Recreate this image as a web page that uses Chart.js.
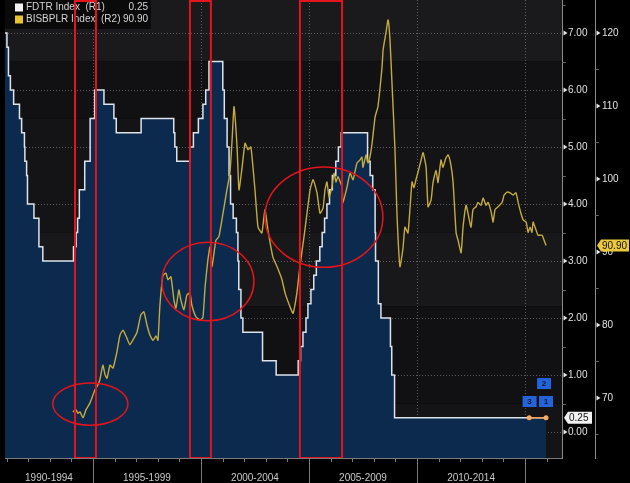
<!DOCTYPE html>
<html>
<head>
<meta charset="utf-8">
<script src="https://cdn.jsdelivr.net/npm/chart.js@4"></script>
<style>
  html, body { margin: 0; padding: 0; background: #000; }
  #wrap { width: 630px; height: 483px; }
</style>
</head>
<body>
<div id="wrap"><canvas id="chart" width="630" height="483"></canvas></div>
<script>
// Fed funds target (R1), step changes: year fraction -> rate
const fdtrDates = [1990.93, 1991.02, 1991.09, 1991.18, 1991.33, 1991.60, 1991.70, 1991.83, 1991.85, 1991.93,
  1991.97, 1992.27, 1992.50, 1992.68, 1994.10, 1994.22, 1994.29, 1994.37, 1994.62, 1994.87,
  1995.08, 1995.51, 1995.97, 1996.08, 1997.23, 1998.74, 1998.79, 1998.88, 1999.49, 1999.65,
  1999.88, 2000.09, 2000.22, 2000.37, 2001.01, 2001.08, 2001.21, 2001.30, 2001.37, 2001.49,
  2001.64, 2001.71, 2001.75, 2001.85, 2001.94, 2002.85, 2003.48, 2004.50, 2004.61, 2004.72,
  2004.86, 2004.95, 2005.09, 2005.22, 2005.34, 2005.50, 2005.61, 2005.72, 2005.83, 2005.95,
  2006.08, 2006.24, 2006.36, 2006.49, 2007.71, 2007.83, 2007.95, 2008.06, 2008.08, 2008.21,
  2008.33, 2008.77, 2008.83, 2008.96, 2015.97];
const fdtrValues = [7.00, 6.75, 6.25, 6.00, 5.75, 5.50, 5.25, 5.00, 4.75, 4.50,
  4.00, 3.75, 3.25, 3.00, 3.25, 3.50, 3.75, 4.25, 4.75, 5.50,
  6.00, 5.75, 5.50, 5.25, 5.50, 5.25, 5.00, 4.75, 5.00, 5.25,
  5.50, 5.75, 6.00, 6.50, 6.00, 5.50, 5.00, 4.50, 4.00, 3.75,
  3.50, 3.00, 2.50, 2.00, 1.75, 1.25, 1.00, 1.25, 1.50, 1.75,
  2.00, 2.25, 2.50, 2.75, 3.00, 3.25, 3.50, 3.75, 4.00, 4.25,
  4.50, 4.75, 5.00, 5.25, 4.75, 4.50, 4.25, 3.50, 3.00, 2.25,
  2.00, 1.50, 1.00, 0.25, 0.25];

// BISBPLR index (R2)
const bisDates = [1994.07, 1994.21, 1994.31, 1994.40, 1994.54, 1994.68, 1994.86, 1995.09, 1995.23, 1995.32,
  1995.46, 1995.56, 1995.65, 1995.79, 1995.93, 1996.11, 1996.25, 1996.39, 1996.57, 1996.71,
  1996.90, 1997.04, 1997.22, 1997.36, 1997.50, 1997.64, 1997.78, 1997.92, 1998.01, 1998.10,
  1998.24, 1998.38, 1998.47, 1998.61, 1998.75, 1998.84, 1998.98, 1999.07, 1999.21, 1999.35,
  1999.49, 1999.58, 1999.77, 1999.95, 2000.09, 2000.19, 2000.32, 2000.42, 2000.51, 2000.69,
  2000.83, 2000.97, 2001.20, 2001.34, 2001.44, 2001.53, 2001.67, 2001.76, 2001.90, 2002.04,
  2002.18, 2002.31, 2002.50, 2002.64, 2002.82, 2002.96, 2003.10, 2003.33, 2003.52, 2003.75,
  2003.89, 2004.12, 2004.26, 2004.44, 2004.58, 2004.81, 2005.05, 2005.19, 2005.37, 2005.51,
  2005.65, 2005.74, 2005.83, 2005.93, 2006.06, 2006.16, 2006.25, 2006.34, 2006.53, 2006.57,
  2006.76, 2006.90, 2007.04, 2007.22, 2007.36, 2007.45, 2007.50, 2007.64, 2007.73, 2007.82,
  2007.92, 2008.06, 2008.19, 2008.38, 2008.43, 2008.56, 2008.66, 2008.75, 2008.84, 2008.98,
  2009.07, 2009.21, 2009.35, 2009.44, 2009.58, 2009.68, 2009.77, 2009.86, 2009.95, 2010.05,
  2010.19, 2010.28, 2010.42, 2010.51, 2010.65, 2010.74, 2010.88, 2010.97, 2011.11, 2011.20,
  2011.34, 2011.44, 2011.57, 2011.67, 2011.81, 2011.90, 2012.04, 2012.13, 2012.27, 2012.36,
  2012.50, 2012.59, 2012.73, 2012.82, 2012.96, 2013.06, 2013.19, 2013.29, 2013.43, 2013.52,
  2013.61, 2013.75, 2013.94, 2014.03, 2014.17, 2014.31, 2014.44, 2014.58, 2014.68, 2014.81,
  2014.91, 2015.05, 2015.14, 2015.23, 2015.32, 2015.37, 2015.51, 2015.60, 2015.79, 2015.88,
  2015.97];
const bisValues = [68.1, 68.4, 67.9, 68.1, 67.3, 68.4, 69.3, 71.1, 71.8, 72.5,
  74.5, 73.2, 72.7, 74.5, 74.1, 76.3, 78.6, 79.3, 78.2, 77.3,
  78.2, 79.0, 81.4, 81.8, 80.0, 78.6, 77.9, 78.5, 77.9, 82.7,
  86.8, 87.1, 86.2, 86.6, 83.4, 82.3, 84.8, 83.4, 82.1, 84.1,
  84.4, 82.7, 81.1, 80.7, 81.0, 85.2, 88.9, 90.7, 88.0, 91.6,
  92.1, 94.4, 98.5, 100.8, 105.3, 109.9, 104.4, 98.5, 101.5, 104.9,
  104.0, 104.4, 98.5, 93.4, 92.6, 95.8, 93.0, 89.3, 88.0, 86.2,
  84.4, 82.5, 81.6, 84.4, 88.0, 93.0, 98.5, 99.9, 98.1, 95.3,
  96.0, 98.5, 99.6, 97.5, 98.9, 100.8, 99.6, 100.3, 98.9, 96.7,
  98.9, 100.8, 99.9, 102.2, 102.6, 103.0, 101.6, 103.3, 102.2, 103.0,
  104.9, 108.5, 109.9, 115.3, 117.7, 120.0, 121.8, 119.0, 113.2, 104.0,
  95.3, 88.0, 90.5, 93.4, 92.6, 96.2, 99.6, 98.8, 99.9, 101.0,
  102.6, 103.6, 101.6, 96.2, 97.1, 99.5, 101.2, 99.5, 102.6, 101.6,
  102.9, 103.3, 101.9, 99.5, 92.6, 91.6, 89.9, 93.4, 96.4, 95.3,
  93.4, 95.8, 96.2, 96.8, 96.4, 97.4, 96.4, 96.8, 95.5, 94.1,
  95.8, 96.2, 96.8, 97.8, 98.2, 98.1, 97.8, 98.1, 96.8, 95.3,
  94.4, 94.1, 92.7, 93.4, 92.7, 94.1, 93.0, 92.3, 92.3, 91.6,
  90.9];

// axes
const xMin = 1990.93, xMax = 2016.71;
const r1Min = -0.456, r1Max = 7.579;
const r2Min = 61.78, r2Max = 124.52;
const r1Ticks = [0, 1, 2, 3, 4, 5, 6, 7];
const r2Ticks = [70, 80, 90, 100, 110, 120];
const periodStarts = [1990, 1995, 2000, 2005, 2010];
const periodLabels = ['1990-1994', '1995-1999', '2000-2004', '2005-2009', '2010-2014'];
const periodBreaks = [1995, 2000, 2005, 2010, 2015];

// legend and last-value tags
const legendNames = ['FDTR Index  (R1)', 'BISBPLR Index  (R2)'];
const legendValues = ['0.25', '90.90'];
const lastFdtr = 0.25, lastBis = 90.90;

// hand-drawn annotations (data units, R1 for y)
const highlightSpans = [[1994.17, 1995.14], [1999.49, 2000.46], [2004.58, 2006.53]];
const circleCenters = [[1994.88, 0.49], [2000.32, 2.64], [2005.69, 3.77]];
const circleRadii = [[1.74, 0.37], [2.13, 0.69], [2.73, 0.88]];

// event markers at the end
const eventLabels = ['2', '3', '1'];
const eventDates = [2015.88, 2015.21, 2015.97];
const eventLevels = [0.85, 0.535, 0.535];
const eventLineDates = [2015.19, 2015.97];

// background bands on R1 (from, to, colour)
const bands = [[6.5, 7.6, '#1a1a1d'], [5.5, 6.5, '#111114'], [3.5, 5.5, '#141417'], [2.2, 3.5, '#18181b'], [0.5, 2.2, '#111114'], [-0.5, 0.5, '#141417']];

const FONT = 'Liberation Sans, Arial, sans-serif';

const decorPlugin = {
    id: 'decor',
    beforeDraw(chart) {
        const { ctx, chartArea: a, scales } = chart;
        ctx.save();
        ctx.fillStyle = '#000';
        ctx.fillRect(0, 0, chart.width, chart.height);
        bands.forEach(([from, to, color]) => {
            const y1 = scales.y1.getPixelForValue(to);
            const y2 = scales.y1.getPixelForValue(from);
            ctx.fillStyle = color;
            const top = Math.max(y1, a.top), bot = Math.min(y2, a.bottom);
            ctx.fillRect(a.left, top, a.right - a.left, bot - top);
        });
        ctx.restore();
    },
    beforeDatasetsDraw(chart) {
        const { ctx, chartArea: a, scales } = chart;
        ctx.save();
        ctx.strokeStyle = 'rgba(200,200,200,0.4)';
        ctx.lineWidth = 1;
        ctx.setLineDash([1, 2]);
        periodBreaks.forEach((yr) => {
            const x = Math.round(scales.x.getPixelForValue(yr)) + 0.5;
            ctx.beginPath();
            ctx.moveTo(x, a.top);
            ctx.lineTo(x, a.bottom);
            ctx.stroke();
        });
        ctx.restore();
    },
    afterDatasetsDraw(chart) {
        const { ctx, chartArea: a, scales } = chart;
        const x = scales.x, y = scales.y1;
        ctx.save();

        // legend box
        ctx.fillStyle = '#0a0a0a';
        ctx.fillRect(a.left, 0, 146, 29);
        ctx.font = '10px ' + FONT;
        ctx.textBaseline = 'middle';
        const swatches = ['#f2f2f2', '#e6c531'];
        legendNames.forEach((name, i) => {
            const cy = 7.5 + i * 12;
            ctx.fillStyle = swatches[i];
            ctx.fillRect(a.left + 10, cy - 4, 8, 8);
            ctx.fillStyle = '#d4d4d4';
            ctx.textAlign = 'left';
            ctx.fillText(name, a.left + 21, cy);
            ctx.textAlign = 'right';
            ctx.fillText(legendValues[i], a.left + 143, cy);
        });

        // red highlight rectangles
        ctx.strokeStyle = '#e3141c';
        ctx.lineWidth = 2;
        highlightSpans.forEach(([s, e]) => {
            const l = x.getPixelForValue(s), r = x.getPixelForValue(e);
            ctx.strokeRect(l, a.top + 1, r - l, a.bottom - a.top - 1);
        });

        // red ellipses
        ctx.lineWidth = 1.5;
        circleCenters.forEach(([cx, cy], i) => {
            const px = x.getPixelForValue(cx), py = y.getPixelForValue(cy);
            const rx = x.getPixelForValue(cx + circleRadii[i][0]) - px;
            const ry = py - y.getPixelForValue(cy + circleRadii[i][1]);
            ctx.beginPath();
            ctx.ellipse(px, py, rx, ry, 0, 0, Math.PI * 2);
            ctx.stroke();
        });

        // event boxes
        ctx.font = 'bold 8px ' + FONT;
        ctx.textAlign = 'center';
        eventLabels.forEach((lab, i) => {
            const px = x.getPixelForValue(eventDates[i]), py = y.getPixelForValue(eventLevels[i]);
            ctx.fillStyle = '#2563d8';
            ctx.fillRect(px - 7, py - 5.5, 14, 11);
            ctx.fillStyle = '#0b1a3a';
            ctx.fillText(lab, px, py + 0.5);
        });
        ctx.restore();
    },
    afterDraw(chart) {
        const { ctx, chartArea: a, scales } = chart;
        ctx.save();
        ctx.strokeStyle = '#7a7a7a';
        ctx.lineWidth = 1;

        // x axis line, year ticks and period separators
        ctx.beginPath();
        ctx.moveTo(a.left, a.bottom + 0.5);
        ctx.lineTo(a.right, a.bottom + 0.5);
        for (let yr = Math.ceil(xMin); yr <= xMax; yr++) {
            const px = Math.round(scales.x.getPixelForValue(yr)) + 0.5;
            const long = periodBreaks.includes(yr);
            ctx.moveTo(px, a.bottom);
            ctx.lineTo(px, long ? chart.height : a.bottom + 4);
        }
        ctx.stroke();

        // minor ticks and markers on both value axes
        [['y1', 0.5, r1Ticks], ['y2', 5, r2Ticks]].forEach(([id, half, major]) => {
            const s = scales[id];
            const ax = Math.round(s.left) + 0.5;
            ctx.strokeStyle = '#6a6a6a';
            ctx.beginPath();
            major.forEach((v) => {
                [v - half, v + half].forEach((m) => {
                    if (m < s.min || m > s.max) return;
                    const py = Math.round(s.getPixelForValue(m)) + 0.5;
                    ctx.moveTo(ax, py);
                    ctx.lineTo(ax + 3, py);
                });
            });
            ctx.stroke();
            ctx.fillStyle = '#e8e8e8';
            major.forEach((v) => {
                const py = s.getPixelForValue(v);
                ctx.beginPath();
                ctx.moveTo(ax + 1, py - 2.5);
                ctx.lineTo(ax + 1, py + 2.5);
                ctx.lineTo(ax + 5, py);
                ctx.closePath();
                ctx.fill();
            });
        });

        // last value tags
        const tag = (s, value, text, bg, w) => {
            const py = s.getPixelForValue(value);
            const l = s.left + 2;
            ctx.fillStyle = bg;
            ctx.beginPath();
            ctx.moveTo(l, py);
            ctx.lineTo(l + 4, py - 6);
            ctx.lineTo(l + w, py - 6);
            ctx.lineTo(l + w, py + 6);
            ctx.lineTo(l + 4, py + 6);
            ctx.closePath();
            ctx.fill();
            ctx.fillStyle = '#111';
            ctx.font = '10px ' + FONT;
            ctx.textAlign = 'left';
            ctx.textBaseline = 'middle';
            ctx.fillText(text, l + 5, py + 0.5);
        };
        tag(scales.y1, lastFdtr, lastFdtr.toFixed(2), '#f2f2f2', 28);
        tag(scales.y2, lastBis, lastBis.toFixed(2), '#ecc93a', 32);
        ctx.restore();
    }
};

const noPadV = (w) => (scale) => {
    scale.width = w;
    scale.paddingTop = 0;
    scale.paddingBottom = 0;
};

const ctx = document.getElementById('chart').getContext('2d');
const chart = new Chart(ctx, {
    type: 'line',
    data: {
        datasets: [
            {
                label: 'Events',
                data: eventLineDates.map((d) => ({ x: d, y: lastFdtr })),
                yAxisID: 'y1',
                borderColor: '#f0a25a',
                borderWidth: 1.5,
                pointRadius: 2.5,
                pointBackgroundColor: '#f6ab62',
                pointBorderWidth: 0,
                order: 0,
            },
            {
                label: 'BISBPLR Index',
                data: bisDates.map((d, i) => ({ x: d, y: bisValues[i] })),
                yAxisID: 'y2',
                borderColor: '#c4ab3e',
                borderWidth: 1.4,
                pointRadius: 0,
                tension: 0.15,
                fill: false,
                order: 1,
            },
            {
                label: 'FDTR Index',
                data: fdtrDates.map((d, i) => ({ x: d, y: fdtrValues[i] })),
                yAxisID: 'y1',
                stepped: true,
                borderColor: '#dde3ea',
                borderWidth: 1.5,
                backgroundColor: '#0c2a4e',
                fill: 'start',
                pointRadius: 0,
                order: 2,
            }
        ]
    },
    options: {
        responsive: false,
        animation: false,
        layout: { autoPadding: false, padding: { left: 5, top: 0, right: 0, bottom: 0 } },
        plugins: {
            legend: { display: false },
            tooltip: { enabled: false },
        },
        scales: {
            x: {
                type: 'linear',
                min: xMin,
                max: xMax,
                grid: { display: false },
                border: { display: false },
                afterBuildTicks(scale) {
                    scale.ticks = periodStarts.map((s) => ({ value: (Math.max(s, xMin) + s + 5) / 2 }));
                },
                afterFit(scale) {
                    scale.height = 25;
                    scale.paddingLeft = 0;
                    scale.paddingRight = 0;
                },
                ticks: {
                    color: '#c8c8c8',
                    font: { family: FONT, size: 10 },
                    padding: 6,
                    maxRotation: 0,
                    autoSkip: false,
                    callback: (value, index) => periodLabels[index],
                },
            },
            y1: {
                type: 'linear',
                position: 'right',
                min: r1Min,
                max: r1Max,
                afterBuildTicks(scale) {
                    scale.ticks = r1Ticks.map((v) => ({ value: v }));
                },
                afterFit: noPadV(33),
                grid: {
                    color: 'rgba(200,200,200,0.4)',
                    drawTicks: false,
                },
                border: { display: true, color: '#8a8a8a', dash: [1, 2] },
                ticks: {
                    color: '#e0e0e0',
                    font: { family: FONT, size: 10 },
                    padding: 6,
                    callback: (v) => v.toFixed(2),
                },
            },
            y2: {
                type: 'linear',
                position: 'right',
                min: r2Min,
                max: r2Max,
                afterBuildTicks(scale) {
                    scale.ticks = r2Ticks.map((v) => ({ value: v }));
                },
                afterFit: noPadV(35),
                grid: { drawOnChartArea: false, drawTicks: false },
                border: { display: true, color: '#8a8a8a' },
                ticks: {
                    color: '#e0e0e0',
                    font: { family: FONT, size: 10 },
                    padding: 7,
                    callback: (v) => String(v),
                },
            },
        },
    },
    plugins: [decorPlugin],
});
</script>
</body>
</html>
